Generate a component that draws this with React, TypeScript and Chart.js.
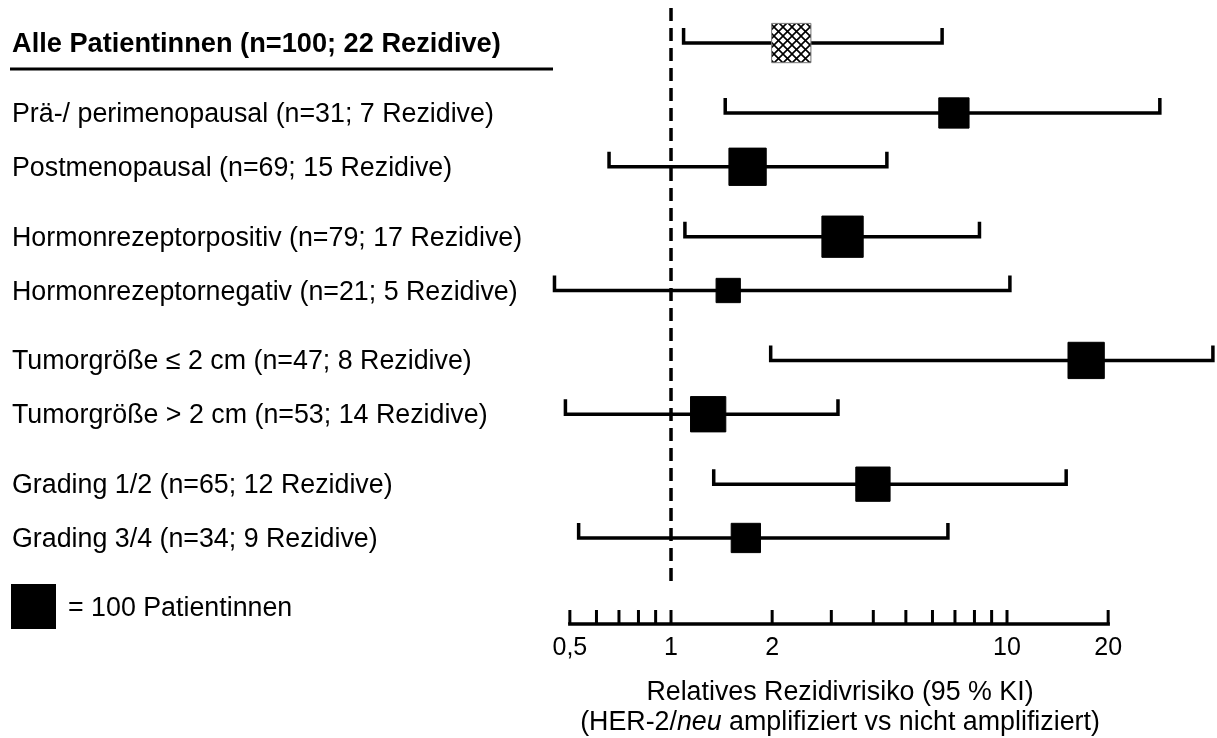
import React, { useEffect, useRef } from 'react';
import { Chart, registerables } from 'chart.js';

Chart.register(...registerables);

// ---------- data ----------
const rowLabels = [
  'Alle Patientinnen (n=100; 22 Rezidive)',
  'Prä-/ perimenopausal (n=31; 7 Rezidive)',
  'Postmenopausal (n=69; 15 Rezidive)',
  'Hormonrezeptorpositiv (n=79; 17 Rezidive)',
  'Hormonrezeptornegativ (n=21; 5 Rezidive)',
  'Tumorgröße ≤ 2 cm (n=47; 8 Rezidive)',
  'Tumorgröße > 2 cm (n=53; 14 Rezidive)',
  'Grading 1/2 (n=65; 12 Rezidive)',
  'Grading 3/4 (n=34; 9 Rezidive)',
];
const rowGroup = [0, 1, 1, 2, 2, 3, 3, 4, 4];
const relRisk = [2.28, 6.95, 1.69, 3.24, 1.48, 17.2, 1.29, 3.99, 1.67];
const ciLower = [1.09, 1.45, 0.654, 1.1, 0.45, 1.98, 0.485, 1.34, 0.531];
const ciUpper = [6.41, 28.5, 4.39, 8.28, 10.2, 41.0, 3.14, 15.0, 6.67];
const axisTickValues = [0.5, 0.6, 0.7, 0.8, 0.9, 1, 2, 3, 4, 5, 6, 7, 8, 9, 10, 20];
const axisLabelValues = [0.5, 1, 2, 10, 20];
const axisLabelTexts = ['0,5', '1', '2', '10', '20'];
const legendText = '= 100 Patientinnen';
const axisTitle1 = 'Relatives Rezidivrisiko (95 % KI)';
const axisTitle2Parts = ['(HER-2/', 'neu', ' amplifiziert vs nicht amplifiziert)'];

// ---------- styling ----------
const boxSide = [40, 31, 38, 42, 25, 37, 36, 35, 30];
const GROUP_GAP = 0.3;
const FONT = "'Liberation Sans', Arial, sans-serif";
const FS = 26.8;

const yPos = rowLabels.map((_, i) => i + rowGroup[i] * GROUP_GAP);

function makeHatch(): CanvasPattern | string {
  const c = document.createElement('canvas');
  c.width = 9;
  c.height = 9;
  const g = c.getContext('2d');
  if (!g) return '#888';
  g.fillStyle = '#fff';
  g.fillRect(0, 0, 9, 9);
  g.strokeStyle = '#000';
  g.lineWidth = 1.6;
  g.beginPath();
  g.moveTo(-1, -1); g.lineTo(10, 10);
  g.moveTo(10, -1); g.lineTo(-1, 10);
  g.stroke();
  const p = g.createPattern(c, 'repeat');
  return p || '#888';
}

const forestPlugin = {
  id: 'forest',
  beforeDatasetsDraw(chart: any) {
    const { ctx, scales } = chart;
    const x = scales.x;
    const y = scales.y;
    ctx.save();
    ctx.strokeStyle = '#000';
    ctx.fillStyle = '#000';

    // reference line at 1
    const x1 = x.getPixelForValue(1);
    ctx.lineWidth = 3.5;
    ctx.setLineDash([13, 7]);
    ctx.beginPath();
    ctx.moveTo(x1, 8);
    ctx.lineTo(x1, 582);
    ctx.stroke();
    ctx.setLineDash([]);

    // confidence intervals
    ctx.lineWidth = 3.5;
    ctx.lineJoin = 'miter';
    for (let i = 0; i < rowLabels.length; i++) {
      const yy = y.getPixelForValue(yPos[i]);
      const xl = x.getPixelForValue(ciLower[i]);
      const xh = x.getPixelForValue(ciUpper[i]);
      ctx.beginPath();
      ctx.moveTo(xl, yy - 15);
      ctx.lineTo(xl, yy);
      ctx.lineTo(xh, yy);
      ctx.lineTo(xh, yy - 15);
      ctx.stroke();
    }

    // row labels
    ctx.textAlign = 'left';
    ctx.textBaseline = 'alphabetic';
    for (let i = 0; i < rowLabels.length; i++) {
      const yy = y.getPixelForValue(yPos[i]);
      ctx.font = (i === 0 ? 'bold 27.2px ' : FS + 'px ') + FONT;
      ctx.fillText(rowLabels[i], 12, yy + 9);
    }
    // underline under header
    const y0 = y.getPixelForValue(yPos[0]);
    ctx.lineWidth = 3;
    ctx.beginPath();
    ctx.moveTo(10, y0 + 26);
    ctx.lineTo(553, y0 + 26);
    ctx.stroke();

    // legend
    ctx.fillRect(11, 584, 45, 45);
    ctx.font = FS + 'px ' + FONT;
    ctx.fillText(legendText, 68, 616);

    // axis
    const axY = 624;
    const xa = x.getPixelForValue(axisTickValues[0]);
    const xb = x.getPixelForValue(axisTickValues[axisTickValues.length - 1]);
    ctx.lineWidth = 3.5;
    ctx.lineCap = 'square';
    ctx.beginPath();
    ctx.moveTo(xa, axY);
    ctx.lineTo(xb, axY);
    ctx.stroke();
    ctx.lineCap = 'butt';
    ctx.lineWidth = 3;
    for (const v of axisTickValues) {
      const px = x.getPixelForValue(v);
      ctx.beginPath();
      ctx.moveTo(px, axY);
      ctx.lineTo(px, axY - 14);
      ctx.stroke();
    }
    ctx.textAlign = 'center';
    ctx.font = '25px ' + FONT;
    axisLabelValues.forEach((v, k) => {
      ctx.fillText(axisLabelTexts[k], x.getPixelForValue(v), 655);
    });

    // axis title
    const cx = 840;
    ctx.font = FS + 'px ' + FONT;
    ctx.fillText(axisTitle1, cx, 700);
    ctx.textAlign = 'left';
    const fonts = [FS + 'px ' + FONT, 'italic ' + FS + 'px ' + FONT, FS + 'px ' + FONT];
    let total = 0;
    const widths = axisTitle2Parts.map((t, k) => {
      ctx.font = fonts[k];
      const w = ctx.measureText(t).width;
      total += w;
      return w;
    });
    let sx = cx - total / 2;
    axisTitle2Parts.forEach((t, k) => {
      ctx.font = fonts[k];
      ctx.fillText(t, sx, 730);
      sx += widths[k];
    });
    ctx.restore();
  },
};

export default function App() {
  const ref = useRef<HTMLCanvasElement | null>(null);
  useEffect(() => {
    if (!ref.current) return;
    const hatch = makeHatch();
    const chart = new Chart(ref.current, {
      type: 'scatter',
      data: {
        datasets: [
          {
            data: relRisk.map((v, i) => ({ x: v, y: yPos[i] })),
            pointStyle: 'rect',
            pointRadius: boxSide.map((s) => s / 2 / Math.SQRT1_2 - 0.5),
            pointHoverRadius: boxSide.map((s) => s / 2 / Math.SQRT1_2 - 0.5),
            pointBackgroundColor: relRisk.map((_, i) => (i === 0 ? hatch : '#000')),
            pointBorderColor: relRisk.map((_, i) => (i === 0 ? '#777' : '#000')),
            pointBorderWidth: 1,
            clip: false as any,
          },
        ],
      },
      options: {
        responsive: false,
        animation: false,
        devicePixelRatio: 1,
        layout: { autoPadding: false, padding: { left: 537.3, right: 7.7, top: 0, bottom: 103.2 } },
        plugins: { legend: { display: false }, tooltip: { enabled: false }, title: { display: false } },
        events: [],
        scales: {
          x: { type: 'logarithmic', min: 0.4, max: 40, display: false, bounds: 'data' },
          y: { type: 'linear', min: -0.8, max: 11, reverse: true, display: false },
        },
      },
      plugins: [forestPlugin],
    });
    return () => chart.destroy();
  }, []);
  return (
    <div style={{ position: 'fixed', left: 0, top: 0, width: 1217, height: 738, background: '#fff' }}>
      <canvas ref={ref} width={1217} height={738} />
    </div>
  );
}
